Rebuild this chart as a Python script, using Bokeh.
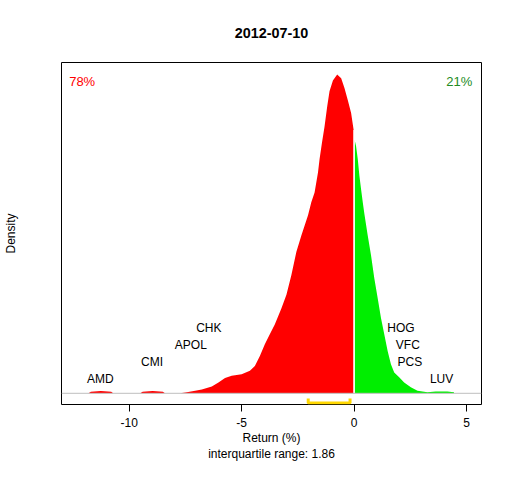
from bokeh.plotting import figure
from bokeh.models import Range1d, FixedTicker, Span, Label
from bokeh.core.properties import value
from bokeh.embed import file_html
from bokeh.resources import INLINE

# ---------------- data ----------------
title_text = "2012-07-10"
tick_values = [-10, -5, 0, 5]
x_label = "Return (%)"
y_label = "Density"

# density of returns (relative units, peak = 1), negative side
neg_x = [-11.81, -11.70, -11.26, -10.80, -10.71,
         -9.51, -9.40, -8.96, -8.50, -8.41,
         -7.730, -7.434, -7.066, -6.770, -6.327, -6.031, -5.739, -5.442, -5.000,
         -4.633, -4.412, -4.190, -3.969, -3.748, -3.527, -3.230, -3.009, -2.788,
         -2.566, -2.345, -2.049, -1.903, -1.757, -1.606, -1.535, -1.429, -1.314,
         -1.195, -1.093, -0.942, -0.752, -0.575, -0.429, -0.279, -0.133, -0.02]
neg_d = [0.0, 0.005, 0.007, 0.005, 0.0,
         0.0, 0.005, 0.007, 0.005, 0.0,
         0.0, 0.003, 0.008, 0.012, 0.021, 0.034, 0.048, 0.055, 0.060,
         0.071, 0.086, 0.117, 0.154, 0.185, 0.216, 0.267, 0.309, 0.371,
         0.444, 0.495, 0.558, 0.599, 0.630, 0.692, 0.735, 0.786, 0.837,
         0.900, 0.947, 0.981, 1.000, 0.988, 0.957, 0.919, 0.879, 0.826]

# positive side
pos_x = [0.02, 0.088, 0.164, 0.235, 0.310, 0.385, 0.456, 0.606, 0.752, 0.898,
         1.049, 1.195, 1.341, 1.491, 1.637, 1.783, 2.004, 2.226, 2.522, 2.819,
         3.261, 3.628, 4.146, 4.438, 4.45]
pos_d = [0.796, 0.775, 0.734, 0.682, 0.640, 0.599, 0.563, 0.495, 0.433, 0.361,
         0.298, 0.236, 0.185, 0.133, 0.091, 0.065, 0.050, 0.034, 0.019, 0.008,
         0.003, 0.006, 0.006, 0.003, 0.0]

pct_negative = "78%"
pct_positive = "21%"
q1, q3 = -2.04, -0.18
iqr_text = "interquartile range: 1.86"

stock_names = ["AMD", "CMI", "APOL", "CHK", "HOG", "VFC", "PCS", "LUV"]
stock_returns = [-11.28, -8.98, -7.26, -6.46, 2.08, 2.39, 2.48, 3.89]
label_levels = [1, 2, 3, 4, 4, 3, 2, 1]

# ---------------- figure ----------------
FONT = "Liberation Sans"
x_lo, x_hi = -13.009, 5.664
y_lo, y_hi = -0.0351, 1.0373

p = figure(width=496, height=464, output_backend="svg", toolbar_location=None,
           x_range=Range1d(x_lo, x_hi), y_range=Range1d(y_lo, y_hi),
           min_border_left=59, min_border_right=15, min_border_top=59,
           min_border_bottom=60, title=title_text)
p.background_fill_color = "white"
p.border_fill_color = "white"
p.outline_line_color = "black"
p.outline_line_width = 1
p.grid.visible = False

p.title.align = "center"
p.title.text_font = FONT
p.title.text_font_size = "14.4px"
p.title.text_font_style = "bold"
p.title.text_color = "black"
p.title.standoff = 50

# y axis: title only
ya = p.yaxis[0]
ya.ticker = FixedTicker(ticks=[])
ya.axis_line_color = None
ya.major_tick_line_color = None
ya.minor_tick_line_color = None
ya.major_tick_out = 0
ya.major_tick_in = 0
ya.minor_tick_out = 0
ya.minor_tick_in = 0
ya.major_label_standoff = 0
ya.axis_label = y_label
ya.axis_label_text_font = FONT
ya.axis_label_text_font_size = "12px"
ya.axis_label_text_font_style = "normal"
ya.axis_label_text_color = "black"
ya.axis_label_standoff = 44

xa = p.xaxis[0]
xa.ticker = FixedTicker(ticks=tick_values)
xa.major_label_overrides = {v: str(v) for v in tick_values}
xa.axis_line_color = None
xa.major_tick_in = 0
xa.major_tick_out = 7
xa.major_tick_line_color = "black"
xa.minor_tick_line_color = None
xa.major_label_text_font = FONT
xa.major_label_text_font_size = "12px"
xa.major_label_text_color = "black"
xa.major_label_standoff = 6
xa.axis_label = x_label + "\n" + iqr_text
xa.axis_label_text_font = FONT
xa.axis_label_text_font_size = "12px"
xa.axis_label_text_font_style = "normal"
xa.axis_label_text_color = "black"
xa.axis_label_standoff = 1

# density fills
p.varea(x=neg_x, y1=0, y2=neg_d, fill_color="#FF0000")
p.varea(x=pos_x, y1=0, y2=pos_d, fill_color="#00EE00")
p.segment(x0=[0], y0=[0], x1=[0], y1=[neg_d[-1]], line_color="white", line_width=1.5)

# baseline
p.add_layout(Span(location=0, dimension="width", line_color="#BEBEBE", line_width=1))

# interquartile bracket
yb_top = -0.0165
yb_bot = -0.0305
p.line(x=[q1, q1, q3, q3], y=[yb_top, yb_bot, yb_bot, yb_top],
       line_color="#FFD700", line_width=3)

# stock labels
label_y = [0.046 + 0.0527 * (lv - 1) for lv in label_levels]
p.text(x=stock_returns, y=label_y, text=stock_names, text_align="center",
       text_baseline="middle", text_font=value(FONT), text_font_size="12px",
       text_color="black")

# percentage annotations
p.add_layout(Label(x=x_lo + 0.34, y=0.979, text=pct_negative, text_align="left",
                   text_baseline="middle", text_color="#FF0000", text_font=FONT,
                   text_font_size="13px"))
p.add_layout(Label(x=x_hi - 0.41, y=0.979, text=pct_positive, text_align="right",
                   text_baseline="middle", text_color="#228B22", text_font=FONT,
                   text_font_size="13px"))

open("out.html", "w").write(file_html(p, INLINE))
